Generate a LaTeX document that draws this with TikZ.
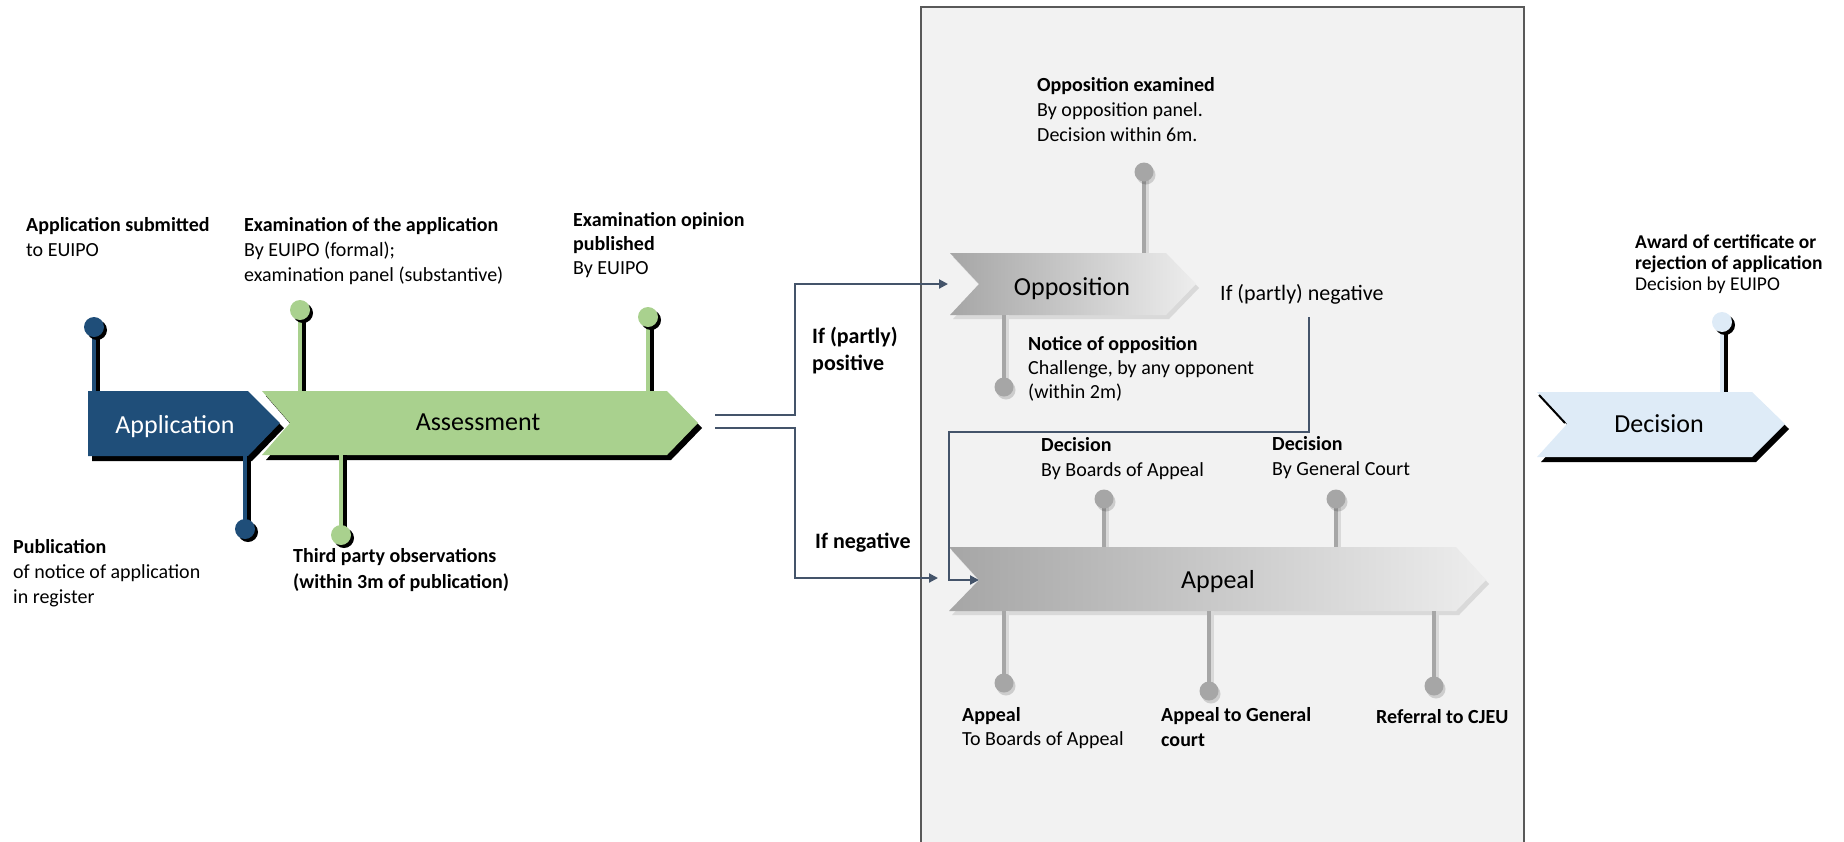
\documentclass[tikz,border=0pt]{standalone}
\usepackage{fontspec}
\setmainfont{Carlito}
\usetikzlibrary{arrows.meta,shadows}
\definecolor{appblue}{RGB}{31,78,121}
\definecolor{assgreen}{RGB}{169,209,142}
\definecolor{decblue}{RGB}{222,235,247}
\definecolor{pingrey}{RGB}{166,166,166}
\definecolor{panelgrey}{RGB}{242,242,242}
\definecolor{panelline}{RGB}{89,89,89}
\definecolor{flowline}{RGB}{68,84,106}
\tikzset{
  lbl/.style={anchor=north west,inner sep=0pt,align=left,font=\fontsize{20}{25}\selectfont,execute at begin node={\rule{0pt}{16pt}}},
  iflbl/.style={anchor=north west,inner sep=0pt,align=left,font=\fontsize{22}{27}\selectfont,execute at begin node={\rule{0pt}{18pt}}},
  steplbl/.style={anchor=base,inner sep=0pt,font=\fontsize{26}{30}\selectfont},
  flow/.style={draw=flowline,line width=2pt,-{Triangle[length=9pt,width=9pt]}},
  pinhead/.style={circle,inner sep=0pt,minimum size=20pt,drop shadow={shadow xshift=3pt,shadow yshift=-3pt,fill=black,opacity=1}},
  greyhead/.style={circle,inner sep=0pt,minimum size=19pt,fill=pingrey,drop shadow={shadow xshift=2pt,shadow yshift=-3pt,fill=black,opacity=.15}},
  stem/.style={line width=4.5pt},
  greystem/.style={line width=4pt,pingrey}
}

\begin{document}
\begin{tikzpicture}[x=1pt,y=-1pt]
\useasboundingbox (0,0) rectangle (1844,841);
\clip (0,0) rectangle (1844,841);
\draw[panelline,fill=panelgrey,line width=1.5pt] (921,7) rectangle (1524,860);

\fill[black,shift={(4,5)}] (262,391) -- (667,391) -- (698,423) -- (667,455) -- (262,455) -- (290,423) -- cycle;
\fill[black,shift={(4,5)}] (88,391) -- (248,391) -- (280,423) -- (248,456) -- (88,456) -- cycle;
\fill[appblue] (88,391) -- (248,391) -- (280,423) -- (248,456) -- (88,456) -- cycle;
\fill[assgreen] (262,391) -- (667,391) -- (698,423) -- (667,455) -- (262,455) -- (290,423) -- cycle;
\fill[black,shift={(4,5)}] (1537,392) -- (1752,392) -- (1785,424) -- (1752,457) -- (1537,457) -- (1567,424) -- cycle;
\fill[decblue] (1537,392) -- (1752,392) -- (1785,424) -- (1752,457) -- (1537,457) -- (1567,424) -- cycle;
\draw[black,line width=2pt] (1539,395) -- (1565,423);
\fill[black!15,shift={(3,4)}] (950,253) -- (1166,253) -- (1196,284) -- (1166,315) -- (950,315) -- (979,284) -- cycle;
\shade[left color=black!35,right color=black!7] (950,253) -- (1166,253) -- (1196,284) -- (1166,315) -- (950,315) -- (979,284) -- cycle;
\fill[black!15,shift={(3,4)}] (949,547) -- (1456,547) -- (1486,580) -- (1456,611) -- (949,611) -- (979,580) -- cycle;
\shade[left color=black!35,right color=black!7] (949,547) -- (1456,547) -- (1486,580) -- (1456,611) -- (949,611) -- (979,580) -- cycle;

\node[steplbl,text=white] (app) at (175,433) {Application};
\node[steplbl] (assess) at (478,430) {Assessment};
\node[steplbl] (opp) at (1072,295) {Opposition};
\node[steplbl] (appeal) at (1218,588) {Appeal};
\node[steplbl] (dec) at (1659,432) {Decision};

\draw[stem,black] (98,327) -- (98,391);
\draw[stem,appblue] (94,327) -- (94,391);
\node[pinhead,fill=appblue] (submpin) at (94,327) {};
\draw[stem,black] (249,456) -- (249,529);
\draw[stem,appblue] (245,456) -- (245,529);
\node[pinhead,fill=appblue] (publpin) at (245,529) {};
\draw[stem,black] (304,310) -- (304,391);
\draw[stem,assgreen] (300,310) -- (300,391);
\node[pinhead,fill=assgreen] (exampin) at (300,310) {};
\draw[stem,black] (652,317) -- (652,391);
\draw[stem,assgreen] (648,317) -- (648,391);
\node[pinhead,fill=assgreen] (opinpin) at (648,317) {};
\draw[stem,black] (345,455) -- (345,535);
\draw[stem,assgreen] (341,455) -- (341,535);
\node[pinhead,fill=assgreen] (thirdpin) at (341,535) {};
\draw[stem,black] (1726,322) -- (1726,392);
\draw[stem,decblue] (1722,322) -- (1722,392);
\node[pinhead,fill=decblue] (awardpin) at (1722,322) {};

\draw[greystem,black!15] (1147,172) -- (1147,253);
\draw[greystem] (1144,172) -- (1144,253);
\node[greyhead] (oppexpin) at (1144,172) {};
\draw[greystem,black!15] (1007,315) -- (1007,387);
\draw[greystem] (1004,315) -- (1004,387);
\node[greyhead] (noticepin) at (1004,387) {};
\draw[greystem,black!15] (1107,499) -- (1107,547);
\draw[greystem] (1104,499) -- (1104,547);
\node[greyhead] (decboapin) at (1104,499) {};
\draw[greystem,black!15] (1339,499) -- (1339,547);
\draw[greystem] (1336,499) -- (1336,547);
\node[greyhead] (decgcpin) at (1336,499) {};
\draw[greystem,black!15] (1007,611) -- (1007,683);
\draw[greystem] (1004,611) -- (1004,683);
\node[greyhead] (appboapin) at (1004,683) {};
\draw[greystem,black!15] (1212,611) -- (1212,691);
\draw[greystem] (1209,611) -- (1209,691);
\node[greyhead] (appgcpin) at (1209,691) {};
\draw[greystem,black!15] (1437,611) -- (1437,686);
\draw[greystem] (1434,611) -- (1434,686);
\node[greyhead] (referpin) at (1434,686) {};

\node[lbl] (subm) at (26,217) {\textbf{Application submitted}\\to EUIPO};
\node[lbl] (exam) at (244,217) {\textbf{Examination of the application}\\By EUIPO (formal);\\examination panel (substantive)};
\node[lbl,font=\fontsize{20}{24}\selectfont] (opin) at (573,212) {\textbf{Examination opinion}\\\textbf{published}\\By EUIPO};
\node[lbl] (publ) at (13,539) {\textbf{Publication}\\of notice of application\\in register};
\node[lbl,font=\fontsize{20}{26}\selectfont] (third) at (293,548) {\textbf{Third party observations}\\\textbf{(within 3m of publication)}};
\node[lbl] (oppex) at (1037,77) {\textbf{Opposition examined}\\By opposition panel.\\Decision within 6m.};
\node[lbl,font=\fontsize{20}{24}\selectfont] (notice) at (1028,336) {\textbf{Notice of opposition}\\Challenge, by any opponent\\(within 2m)};
\node[lbl] (decboa) at (1041,437) {\textbf{Decision}\\By Boards of Appeal};
\node[lbl] (decgc) at (1272,436) {\textbf{Decision}\\By General Court};
\node[lbl,font=\fontsize{20}{24}\selectfont] (appboa) at (962,707) {\textbf{Appeal}\\To Boards of Appeal};
\node[lbl] (appgc) at (1161,707) {\textbf{Appeal to General}\\\textbf{court}};
\node[lbl] (refer) at (1376,707) {\textbf{Referral to CJEU}};
\node[lbl,font=\fontsize{19.5}{21}\selectfont] (award) at (1635,235) {\textbf{Award of certificate or}\\\textbf{rejection of application}\\Decision by EUIPO};
\node[iflbl] (ifpos) at (812,327) {\textbf{If (partly)}\\\textbf{positive}};
\node[iflbl] (ifneg) at (815,530) {\textbf{If negative}};
\node[iflbl] (ifpneg) at (1220,282) {If (partly) negative};

\coordinate (assout) at (715,415);
\coordinate (assout2) at (715,428);
\coordinate (oppin) at (948,284);
\coordinate (appealin) at (938,578);
\coordinate (negout) at (1309,317);
\coordinate (negin) at (979,580);
\draw[flow] (assout) -- ++(80,0) |- (oppin);
\draw[flow] (assout2) -- ++(80,0) |- (appealin);
\draw[flow] (negout) |- (949,432) |- (negin);
\end{tikzpicture}
\end{document}
